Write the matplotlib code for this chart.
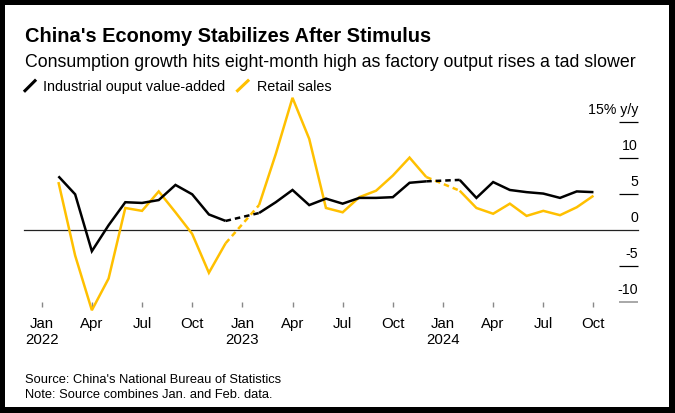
import matplotlib
matplotlib.use("Agg")
import matplotlib.pyplot as plt
from matplotlib.patches import Rectangle
from matplotlib.lines import Line2D

plt.rcParams['font.family'] = ['Liberation Sans', 'DejaVu Sans']

# ---------------- data ----------------
dates = ["2022-02", "2022-03", "2022-04", "2022-05", "2022-06", "2022-07", "2022-08",
         "2022-09", "2022-10", "2022-11", "2022-12",
         "2023-02", "2023-03", "2023-04", "2023-05", "2023-06", "2023-07", "2023-08",
         "2023-09", "2023-10", "2023-11", "2023-12",
         "2024-02", "2024-03", "2024-04", "2024-05", "2024-06", "2024-07", "2024-08",
         "2024-09", "2024-10"]
industrial = [7.5, 5.0, -2.9, 0.7, 3.9, 3.8, 4.2, 6.3, 5.0, 2.2, 1.3,
              2.4, 3.9, 5.6, 3.5, 4.4, 3.7, 4.5, 4.5, 4.6, 6.6, 6.8,
              7.0, 4.5, 6.7, 5.6, 5.3, 5.1, 4.5, 5.4, 5.3]
retail = [6.7, -3.5, -11.1, -6.7, 3.1, 2.7, 5.4, 2.5, -0.5, -5.9, -1.8,
          3.5, 10.6, 18.4, 12.7, 3.1, 2.5, 4.6, 5.5, 7.6, 10.1, 7.4,
          5.5, 3.1, 2.3, 3.7, 2.0, 2.7, 2.1, 3.2, 4.8]
series_names = ["Industrial ouput value-added", "Retail sales"]
series_colors = ["#000000", "#FFC000"]

tick_months = list(range(0, 34, 3))
tick_labels = ["Jan", "Apr", "Jul", "Oct", "Jan", "Apr", "Jul", "Oct",
               "Jan", "Apr", "Jul", "Oct"]
year_labels = {0: "2022", 12: "2023", 24: "2024"}
y_ticks = [-10, -5, 0, 5, 10, 15]
y_tick_labels = ["-10", "-5", "0", "5", "10", "15% y/y"]

title = "China's Economy Stabilizes After Stimulus"
subtitle = "Consumption growth hits eight-month high as factory output rises a tad slower"
source = "Source: China's National Bureau of Statistics"
note = "Note: Source combines Jan. and Feb. data."

# -------------- helpers ---------------
def month_index(d):
    y, m = d.split("-")
    return (int(y) - 2022) * 12 + int(m) - 1

xs = [month_index(d) for d in dates]

W, H = 675, 414
fig = plt.figure(figsize=(W / 100, H / 100), dpi=100)

# border frame
fig.patches.append(Rectangle((0, 0), 1, 1, transform=fig.transFigure,
                             facecolor="black", edgecolor="none", zorder=-2))
fig.patches.append(Rectangle((5 / W, 1 - 408 / H), (669 - 5) / W, (408 - 6) / H,
                             transform=fig.transFigure, facecolor="white",
                             edgecolor="none", zorder=-1))

# pixel mapping
x0_px, px_per_month = 41.7, 16.72
y0_px, px_per_unit = 231.3, 7.2
left_px, right_px = 24, 638
ylo, yhi = -11.5, 19.5
bot_px = y0_px - ylo * px_per_unit
top_px = y0_px - yhi * px_per_unit

ax = fig.add_axes([left_px / W, 1 - bot_px / H, (right_px - left_px) / W,
                   (bot_px - top_px) / H])
ax.set_xlim((left_px - x0_px) / px_per_month, (right_px - x0_px) / px_per_month)
ax.set_ylim(ylo, yhi)
ax.axis("off")

def px_to_y(py):
    return (y0_px - py) / px_per_unit

def px_to_x(px):
    return (px - x0_px) / px_per_month

# zero line
ax.plot([ax.get_xlim()[0], ax.get_xlim()[1]], [0, 0], color="#222222", lw=0.9,
        zorder=1, clip_on=False)
# y ticks
gx0, gx1 = px_to_x(619), px_to_x(638)
for v, lab in zip(y_ticks, y_tick_labels):
    col = "#999999" if v == y_ticks[0] else "#000000"
    if v != 0:
        ax.plot([gx0, gx1], [v, v], color=col, lw=1.2 if v == y_ticks[0] else 0.9,
                clip_on=False, solid_capstyle="butt")
    ax.text(gx1, v + 9 / px_per_unit, lab, ha="right", va="baseline",
            fontsize=10.2, color="black")

# x ticks
for m, lab in zip(tick_months, tick_labels):
    ax.plot([m, m], [px_to_y(303.3), px_to_y(308.3)], color="#888888", lw=1,
            clip_on=False, solid_capstyle="butt")
    ax.text(m, px_to_y(328), lab, ha="center", va="baseline", fontsize=10.8)
    if m in year_labels:
        ax.text(m, px_to_y(344.5), year_labels[m], ha="center", va="baseline",
                fontsize=10.8)

# series: solid within segments, dashed across Jan gaps
def draw_series(vals, color, z):
    segs = [[0]]
    for i in range(1, len(xs)):
        if xs[i] - xs[i - 1] == 1:
            segs[-1].append(i)
        else:
            ax.plot([xs[i - 1], xs[i]], [vals[i - 1], vals[i]], color=color,
                    lw=1.8, linestyle=(0, (2.2, 1.6)), zorder=z, clip_on=False,
                    dash_capstyle="butt")
            segs.append([i])
    for s in segs:
        ax.plot([xs[i] for i in s], [vals[i] for i in s], color=color, lw=1.8,
                zorder=z, clip_on=False, solid_joinstyle="miter",
                solid_capstyle="butt")

draw_series(retail, series_colors[1], 3)
draw_series(industrial, series_colors[0], 4)

# titles
fig.text(25 / W, 1 - 42 / H, title, fontsize=14.4, fontweight="bold",
         ha="left", va="baseline")
fig.text(25 / W, 1 - 66.7 / H, subtitle, fontsize=12.8, ha="left", va="baseline")

# legend
leg_y = 1 - 90.7 / H
fig.add_artist(Line2D([25 / W, 35 / W], [1 - 91.7 / H, 1 - 81.7 / H],
                      color=series_colors[0], lw=2.2, transform=fig.transFigure))
fig.text(43 / W, leg_y, series_names[0], fontsize=10.4, ha="left", va="baseline")
fig.add_artist(Line2D([237.5 / W, 248 / W], [1 - 91.7 / H, 1 - 81.7 / H],
                      color=series_colors[1], lw=2.2, transform=fig.transFigure))
fig.text(257 / W, leg_y, series_names[1], fontsize=10.4, ha="left", va="baseline")

# footer
fig.text(25 / W, 1 - 383.3 / H, source, fontsize=9.3, ha="left", va="baseline")
fig.text(25 / W, 1 - 397.7 / H, note, fontsize=9.3, ha="left", va="baseline")

fig.savefig("out.png", dpi=100)
